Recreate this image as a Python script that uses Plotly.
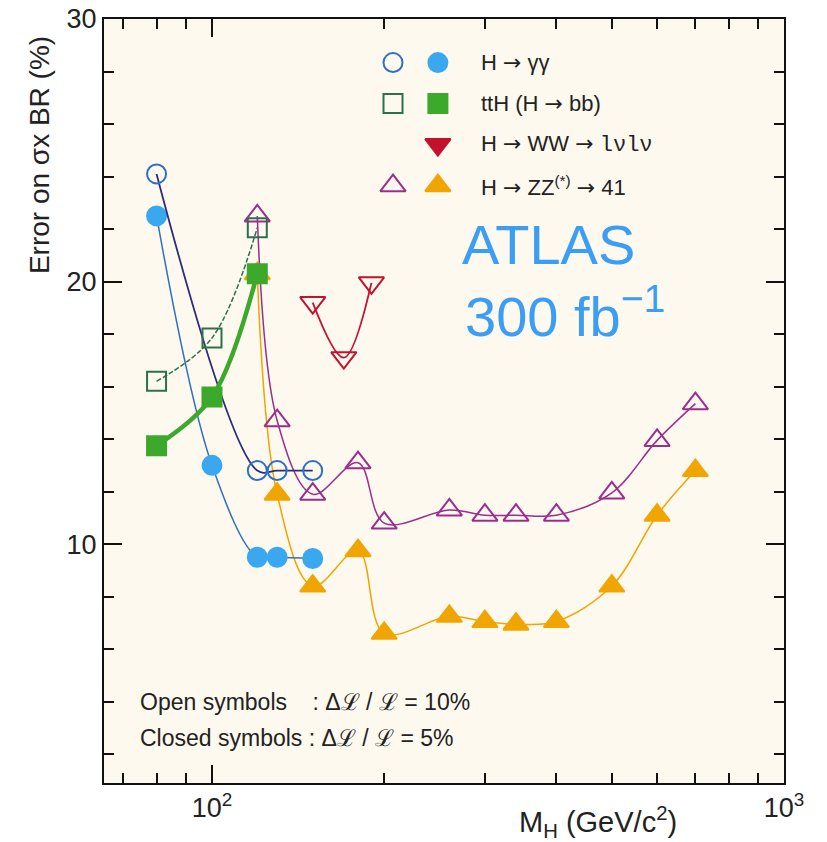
import plotly.graph_objects as go

# ---------------- data ----------------
mass_gg_open = [80, 120, 130, 150]
err_gg_open = [24.1, 12.8, 12.8, 12.8]
mass_gg_closed = [80, 100, 120, 130, 150]
err_gg_closed = [22.5, 13.0, 9.5, 9.5, 9.45]

mass_tth = [80, 100, 120]
err_tth_open = [16.2, 17.85, 22.05]
err_tth_closed = [13.75, 15.6, 20.3]

mass_ww = [150, 170, 190]
err_ww = [19.2, 17.1, 19.95]

mass_zz = [120, 130, 150, 180, 200, 260, 300, 340, 400, 500, 600, 700]
err_zz_open = [22.5, 14.7, 11.9, 13.1, 10.8, 11.3, 11.1, 11.1, 11.1, 11.95, 13.95, 15.35]
err_zz_closed = [20.3, 11.9, 8.4, 9.75, 6.6, 7.25, 7.05, 6.95, 7.05, 8.4, 11.1, 12.8]

x_major_ticks = [100, 1000]
x_major_text = ["10<sup>2</sup>", "10<sup>3</sup>"]
x_minor_ticks = [70, 80, 90, 200, 300, 400, 500, 600, 700, 800, 900]
y_major_ticks = [10, 20, 30]

ARROW = "<span style='font-family:DejaVu Sans'>→</span>"
legend_labels = [
    f"H {ARROW} γγ",
    f"ttH (H {ARROW} bb)",
    f"H {ARROW} WW {ARROW} <span style='font-family:Liberation Mono'>lνlν</span>",
    f"H {ARROW} ZZ<sup>(*)</sup> {ARROW} 41",
]

# ---------------- styles ----------------
BG = "#fdf9ee"
C_GG_OPEN = "#2f6fc6"
C_GG_OPEN_LINE = "#2b2c80"
C_GG_CLOSED = "#3aa8ef"
C_TTH_OPEN = "#2e7049"
C_TTH_CLOSED = "#3ca82c"
C_WW = "#c4122e"
C_ZZ_OPEN = "#9a2e8e"
C_ZZ_CLOSED = "#f0a500"
FONT = "Liberation Sans, Arial, Helvetica, sans-serif"

fig = go.Figure()


def add(x, y, color, line_color, symbol, size, lw=1.5, dash="solid", mlw=2):
    fig.add_trace(go.Scatter(
        x=x, y=y, mode="lines+markers",
        line=dict(color=line_color, width=lw, shape="spline", smoothing=1.0, dash=dash),
        marker=dict(symbol=symbol, size=size, color=color, line=dict(color=color, width=mlw)),
        showlegend=False, hoverinfo="x+y",
    ))


# ZZ (drawn first so others sit on top)
add(mass_zz, err_zz_closed, C_ZZ_CLOSED, C_ZZ_CLOSED, "triangle-up", 22, lw=1.5)
add(mass_zz, err_zz_open, C_ZZ_OPEN, C_ZZ_OPEN, "triangle-up-open", 22, lw=1.5)
# WW
add(mass_ww, err_ww, C_WW, C_WW, "triangle-down-open", 22, lw=1.8)
# gamma gamma
add(mass_gg_closed, err_gg_closed, C_GG_CLOSED, C_GG_OPEN, "circle", 19, lw=1.5)
add(mass_gg_open, err_gg_open, C_GG_OPEN, C_GG_OPEN_LINE, "circle-open", 19, lw=1.8)
# ttH
add(mass_tth, err_tth_open, C_TTH_OPEN, C_TTH_OPEN, "square-open", 19, lw=1.5, dash="5px,2px")
add(mass_tth, err_tth_closed, C_TTH_CLOSED, C_TTH_CLOSED, "square", 19, lw=4.5)

# ---------------- hand-made legend on an overlay axis ----------------
legend_open = [("circle-open", C_GG_OPEN), ("square-open", C_TTH_OPEN), (None, None), ("triangle-up-open", C_ZZ_OPEN)]
legend_closed = [("circle", C_GG_CLOSED), ("square", C_TTH_CLOSED), ("triangle-down", C_WW), ("triangle-up", C_ZZ_CLOSED)]
row_y = [0.943 - i * 0.0537 for i in range(len(legend_labels))]
for i, lab in enumerate(legend_labels):
    for xpos, (sym, col) in ((0.425, legend_open[i]), (0.491, legend_closed[i])):
        if sym is None:
            continue
        sz = 22 if "triangle" in sym else 19
        fig.add_trace(go.Scatter(
            x=[xpos], y=[row_y[i]], mode="markers", xaxis="x2", yaxis="y2",
            marker=dict(symbol=sym, size=sz, color=col, line=dict(color=col, width=2)),
            showlegend=False, hoverinfo="skip",
        ))
    fig.add_annotation(x=0.552, y=row_y[i], xref="x2", yref="y2", text=lab,
                       showarrow=False, xanchor="left", yanchor="middle",
                       font=dict(family=FONT, size=22, color="#222"))

# ---------------- texts ----------------
fig.add_annotation(x=0.5235, y=0.7045, xref="paper", yref="paper", text="ATLAS",
                   showarrow=False, xanchor="left", yanchor="middle",
                   font=dict(family=FONT, size=56, color="#3c9ef2"))
fig.add_annotation(x=0.528, y=0.6154, xref="paper", yref="paper", text="300 fb<sup>−1</sup>",
                   showarrow=False, xanchor="left", yanchor="middle",
                   font=dict(family=FONT, size=56, color="#3c9ef2"))
fig.add_annotation(x=0.05, y=(783 - 702) / 763.7, xref="paper", yref="paper",
                   text="Open symbols\u00a0\u00a0\u00a0\u00a0: Δℒ / ℒ = 10%",
                   showarrow=False, xanchor="left", yanchor="middle",
                   font=dict(family=FONT, size=23, color="#222"))
fig.add_annotation(x=0.05, y=(783 - 738) / 763.7, xref="paper", yref="paper",
                   text="Closed symbols : Δℒ / ℒ = 5%",
                   showarrow=False, xanchor="left", yanchor="middle",
                   font=dict(family=FONT, size=23, color="#222"))
fig.add_annotation(x=-0.094, y=0.822, xref="paper", yref="paper",
                   text="Error on σx BR (%)", textangle=-90,
                   showarrow=False, xanchor="center", yanchor="middle",
                   font=dict(family=FONT, size=28, color="#222"))
fig.add_annotation(x=0.7265, y=-0.051, xref="paper", yref="paper",
                   text="M<sub>H</sub> (GeV/c<sup>2</sup>)",
                   showarrow=False, xanchor="center", yanchor="middle",
                   font=dict(family=FONT, size=29, color="#222"))

axis_common = dict(showline=True, linecolor="#111", linewidth=2, mirror="ticks",
                   ticks="inside", tickcolor="#111", tickwidth=2, ticklen=18,
                   showgrid=False, zeroline=False,
                   tickfont=dict(family=FONT, size=27, color="#222"))

fig.update_layout(
    width=827, height=842,
    margin=dict(l=104, r=43, t=19, b=59, autoexpand=False),
    paper_bgcolor="white", plot_bgcolor=BG,
    showlegend=False,
    xaxis=dict(type="log", range=[1.8112, 3.0], tickmode="array",
               tickvals=x_major_ticks, ticktext=x_major_text,
               minor=dict(tickmode="array", tickvals=x_minor_ticks, ticks="inside",
                          ticklen=10, tickwidth=1.5, tickcolor="#111", showgrid=False),
               **axis_common),
    yaxis=dict(range=[0.9, 30], tickmode="array", tickvals=y_major_ticks,
               minor=dict(tickmode="linear", tick0=0, dtick=2, ticks="inside",
                          ticklen=10, tickwidth=1.5, tickcolor="#111", showgrid=False),
               **axis_common),
    xaxis2=dict(overlaying="x", anchor="y2", range=[0, 1], visible=False),
    yaxis2=dict(overlaying="y", anchor="x2", range=[0, 1], visible=False),
)

fig.write_html("out.html")
